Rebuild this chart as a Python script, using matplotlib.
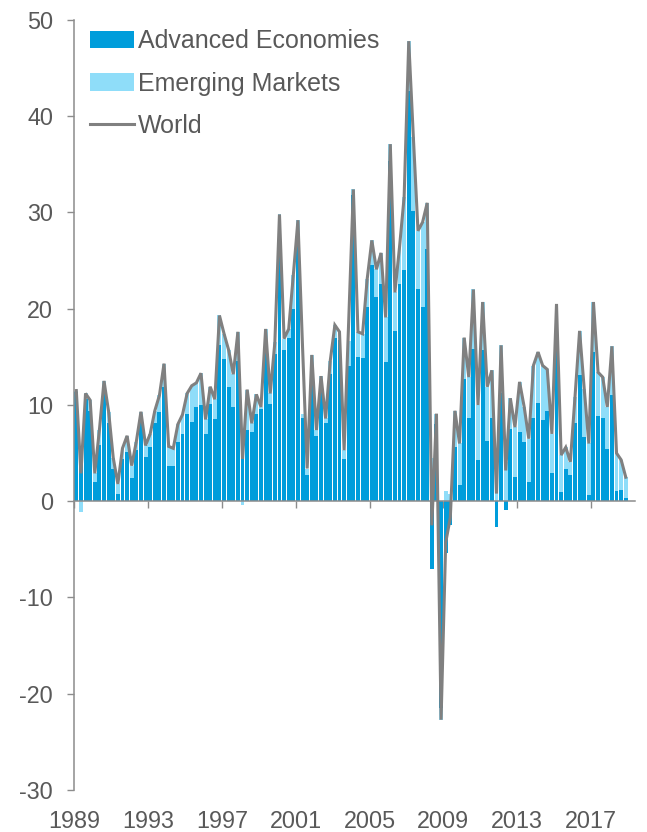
import matplotlib
matplotlib.use("Agg")
import matplotlib.pyplot as plt
import numpy as np

# Quarterly values, 1989Q1 .. 2018Q4
tick_years = [1989, 1993, 1997, 2001, 2005, 2009, 2013, 2017]

advanced = [
    11.3, 4.0, 10.6, 9.4, 2.0, 5.8, 12.0, 8.1, 3.4, 0.8,
    4.4, 5.1, 2.4, 5.3, 8.5, 4.6, 5.6, 8.1, 9.3, 11.9,
    3.7, 3.7, 6.2, 7.0, 9.1, 8.2, 9.8, 10.0, 7.0, 10.1,
    8.5, 16.2, 14.8, 11.9, 9.8, 14.6, 4.8, 7.4, 7.2, 9.1,
    9.6, 16.5, 10.1, 15.3, 28.5, 15.7, 17.0, 20.0, 27.8, 8.7,
    2.7, 13.2, 6.8, 11.9, 8.1, 13.2, 17.0, 16.8, 4.4, 14.0,
    31.8, 15.0, 14.9, 20.2, 24.5, 21.2, 22.6, 14.5, 35.4, 17.7,
    22.6, 24.0, 42.6, 30.2, 22.1, 20.2, 26.2, -7.0, 8.0, -21.5,
    -5.4, -2.5, 5.6, 1.7, 12.7, 8.7, 15.8, 4.3, 15.7, 6.3,
    8.6, -2.7, 11.2, -0.9, 7.5, 2.5, 7.2, 6.2, 2.0, 8.6,
    10.2, 8.4, 9.4, 2.9, 19.8, 1.0, 3.4, 2.7, 8.1, 13.1,
    6.7, 0.6, 15.5, 8.9, 8.6, 5.4, 11.0, 1.1, 1.2, 0.3,
]

emerging = [
    0.2, -1.1, 0.6, 1.1, 0.9, 1.6, 0.5, 1.2, 1.1, 1.0,
    1.1, 1.7, 1.3, 0.9, 0.8, 1.2, 1.4, 1.3, 1.7, 2.4,
    2.0, 1.8, 1.8, 2.0, 2.1, 3.8, 2.5, 3.3, 1.5, 1.8,
    2.1, 3.1, 2.6, 3.8, 3.4, 3.0, -0.4, 4.2, 0.9, 2.0,
    0.2, 1.4, 1.1, 1.2, 1.3, 1.2, 0.9, 3.5, 1.4, 0.4,
    0.7, 2.0, 0.6, 1.1, 0.5, 1.4, 1.3, 0.8, 0.9, 2.7,
    0.6, 2.6, 2.5, 2.9, 2.6, 2.9, 3.2, 4.6, 1.7, 4.0,
    3.8, 7.6, 5.2, 7.6, 6.0, 8.8, 4.8, 4.5, 1.1, -1.2,
    1.1, 0.8, 3.8, 4.3, 4.3, 4.2, 6.2, 5.7, 5.0, 5.6,
    5.0, 3.5, 5.0, 4.1, 3.2, 5.2, 5.2, 3.6, 4.5, 5.5,
    5.3, 5.7, 4.3, 4.1, 0.7, 3.8, 2.2, 1.4, 2.7, 4.6,
    5.0, 5.4, 5.2, 4.5, 4.3, 4.4, 5.1, 3.9, 3.1, 2.2,
]

world = [
    11.5, 2.9, 11.2, 10.5, 2.9, 7.4, 12.5, 9.3, 4.5, 1.8,
    5.5, 6.8, 3.7, 6.2, 9.3, 5.8, 7.0, 9.4, 11.0, 14.3,
    5.7, 5.5, 8.0, 9.0, 11.2, 12.0, 12.3, 13.3, 8.5, 11.9,
    10.6, 19.3, 17.4, 15.7, 13.2, 17.6, 4.4, 11.6, 8.1, 11.1,
    9.8, 17.9, 11.2, 16.5, 29.8, 16.9, 17.9, 23.5, 29.2, 16.0,
    3.4, 15.2, 7.4, 13.0, 8.6, 14.6, 18.3, 17.6, 5.3, 18.8,
    32.4, 17.6, 17.4, 23.1, 27.1, 24.1, 25.8, 19.1, 37.1, 21.7,
    26.4, 31.6, 47.8, 37.8, 28.1, 29.0, 31.0, -2.5, 9.1, -22.7,
    -4.3, -1.7, 9.4, 6.0, 17.0, 12.9, 22.0, 10.0, 20.7, 11.9,
    13.6, 0.8, 16.2, 3.2, 10.7, 7.7, 12.4, 9.8, 6.5, 14.1,
    15.5, 14.1, 13.7, 7.0, 20.5, 4.8, 5.6, 4.1, 10.8, 17.7,
    11.7, 6.0, 20.7, 13.4, 12.9, 9.8, 16.1, 5.0, 4.3, 2.5,
]

DARK = "#009DDB"
LIGHT = "#8FDDF9"
LINE = "#808080"
AXIS = "#8C8C8C"
TEXT = "#595959"

plt.rcParams["font.family"] = ["Liberation Sans", "DejaVu Sans"]
plt.rcParams["axes.unicode_minus"] = False

fig = plt.figure(figsize=(6.47, 8.32), dpi=100)
ax = fig.add_axes([74 / 647, 1 - 790 / 832, (635 - 74) / 647, 770 / 832])

ae = np.array(advanced)
em = np.array(emerging)
x = np.arange(len(ae)) + 0.5

# Positive parts stack upwards from zero, negative parts downwards
em_bottom = np.where(em >= 0, np.maximum(ae, 0), np.minimum(ae, 0))

b1 = ax.bar(x, ae, width=0.85, color=DARK, linewidth=0, zorder=2,
            label="Advanced Economies")
b2 = ax.bar(x, em, bottom=em_bottom, width=0.85, color=LIGHT, linewidth=0,
            zorder=2, label="Emerging Markets")
l1, = ax.plot(x, world, color=LINE, lw=2.2, zorder=3, label="World",
              solid_joinstyle="miter")

ax.set_xlim(0, 121.5)
ax.set_ylim(-30, 50)

for side in ("top", "right"):
    ax.spines[side].set_visible(False)
ax.spines["left"].set_color(AXIS)
ax.spines["left"].set_linewidth(1.1)
ax.spines["bottom"].set_position(("data", 0))
ax.spines["bottom"].set_color(AXIS)
ax.spines["bottom"].set_linewidth(1.1)
ax.set_axisbelow(True)

ax.set_xticks([(y - 1989) * 4 for y in tick_years])
ax.set_xticklabels([str(y) for y in tick_years])
ax.set_yticks(range(-30, 51, 10))

ax.tick_params(axis="x", length=5, width=1, color=AXIS, direction="out",
               pad=217, labelsize=16.8, labelcolor=TEXT)
ax.tick_params(axis="y", length=5, width=1, color=AXIS, direction="out",
               pad=10, labelsize=16.8, labelcolor=TEXT)

leg = ax.legend(handles=[b1, b2, l1],
                loc="upper left", bbox_to_anchor=(90 / 647, 1 - 29 / 832),
                bbox_transform=fig.transFigure, frameon=False, fontsize=18,
                handlelength=1.75, handleheight=0.7, handletextpad=0.15,
                labelspacing=0.74, borderpad=0, borderaxespad=0)
for t in leg.get_texts():
    t.set_color(TEXT)

fig.savefig("out.png", dpi=100)
